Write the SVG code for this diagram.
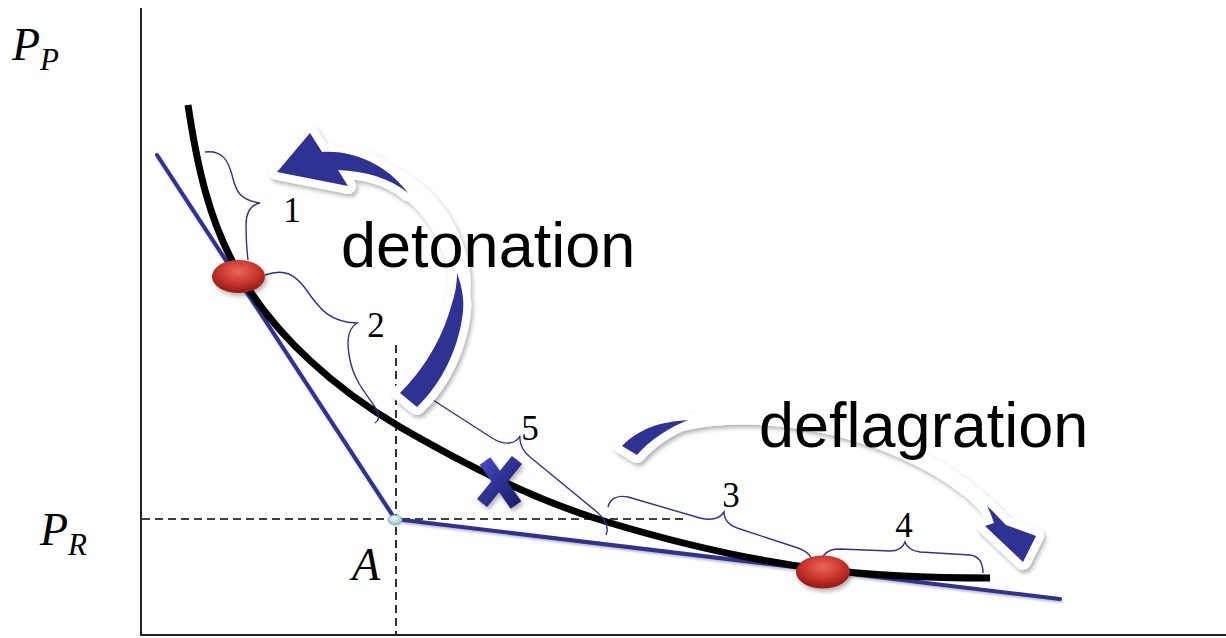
<svg xmlns="http://www.w3.org/2000/svg" width="1226" height="638" viewBox="0 0 1226 638">
<defs>
<filter id="sh" x="-30%" y="-30%" width="160%" height="160%"><feDropShadow dx="2" dy="3" stdDeviation="2" flood-color="#000" flood-opacity="0.3"/></filter>
<filter id="shl" x="-5%" y="-20%" width="110%" height="140%"><feDropShadow dx="1" dy="2" stdDeviation="1.2" flood-color="#000" flood-opacity="0.25"/></filter>
<radialGradient id="red" cx="50%" cy="35%" r="60%"><stop offset="0" stop-color="#e8685a"/><stop offset="0.55" stop-color="#cc3a30"/><stop offset="1" stop-color="#9c1c16"/></radialGradient>
<radialGradient id="cyan" cx="45%" cy="35%" r="65%"><stop offset="0" stop-color="#f4ffff"/><stop offset="1" stop-color="#8bbcc4"/></radialGradient>
<linearGradient id="xg" x1="0" y1="0" x2="1" y2="1"><stop offset="0" stop-color="#4545c0"/><stop offset="0.5" stop-color="#2e3192"/><stop offset="1" stop-color="#1e1f70"/></linearGradient>
<style>
.ax{stroke:#222;stroke-width:2;fill:none}
.dash{stroke:#000;stroke-width:1.6;stroke-dasharray:8 5;fill:none}
.tan{stroke:#2e3192;stroke-width:4;fill:none;stroke-linecap:round}
.br{stroke:#2e3192;stroke-width:1.4;fill:none}
.num{font-family:"Liberation Serif",serif;font-size:35px;fill:#000}
.var{font-family:"Liberation Serif",serif;font-style:italic;fill:#000}
.big{font-family:"Liberation Sans",Arial,sans-serif;font-size:63px;fill:#000}
.band{fill:none;stroke:#fff}
.arr{fill:#2e3192;stroke:#fff;stroke-width:16;stroke-linejoin:round;paint-order:stroke}
</style>
</defs>
<rect width="1226" height="638" fill="#fff"/>

<g id="axes">
<line class="ax" x1="141" y1="8" x2="141" y2="635"/>
<line class="ax" x1="140" y1="635" x2="1226" y2="635"/>
</g>

<g id="guides">
<line class="dash" x1="142" y1="519" x2="686" y2="519"/>
<line class="dash" x1="396" y1="345" x2="396" y2="634"/>
</g>

<g id="tangents" filter="url(#shl)">
<line class="tan" x1="157" y1="155" x2="395" y2="519"/>
<line class="tan" x1="395" y1="519" x2="1060" y2="599"/>
</g>

<g id="curve">
<path d="M188,105 C197,165 209,223 240,275 C277,338 337,390 400,427 C466,465 534,500 607,522 C677,543 748,560 820,569 C876,576 935,578 990,578" fill="none" stroke="#000" stroke-width="7"/>
</g>

<g id="braces">
<path class="br" d="M205,152 C222,150 228,160 232,175 C236,192 240,200 260,203 C250,205 246,212 246,225 C246,240 247,252 248,260"/>
<path class="br" d="M265,275 C285,268 295,275 305,288 C320,310 330,322 357,323 C346,330 347,345 350,360 C355,385 372,400 378,412 C380,418 378,421 375,423"/>
<path class="br" d="M433,400 L492,438 C505,446 516,444 520,436 C519,446 524,452 530,457 L597,512 C606,520 609,528 606,535"/>
<path class="br" d="M608,507 C610,498 618,495 628,497 L700,518 C712,521 720,518 724,512 C724,520 730,526 740,529 L798,548 C806,551 810,555 811,558"/>
<path class="br" d="M823,556 C828,550 833,549 840,549 L890,551 C898,551 903,548 905,542 C907,548 912,551 920,552 L970,555 C978,556 983,562 983,573"/>
</g>

<g id="points">
<ellipse cx="238.5" cy="276.5" rx="26.5" ry="16.5" fill="url(#red)" filter="url(#sh)"/>
<ellipse cx="823" cy="572" rx="27" ry="16.5" fill="url(#red)" filter="url(#sh)"/>
<ellipse cx="395" cy="520" rx="7" ry="5" fill="url(#cyan)" stroke="#7aa8b0" stroke-width="0.8"/>
</g>

<g id="cross" filter="url(#sh)">
<line x1="485" y1="461" x2="516" y2="505" stroke="url(#xg)" stroke-width="13"/>
<line x1="517" y1="460" x2="482" y2="503" stroke="url(#xg)" stroke-width="13"/>
</g>

<g id="detonation-arrow" filter="url(#sh)">
<path class="band" stroke-width="22" d="M408,400 C445,365 470,300 455,255 C440,205 400,170 345,163"/>
<path class="arr" d="M400,393 C415,378 438,350 450,310 C455,295 457,285 457,273 C463,290 464,300 463,312 C459,347 443,382 417,407 Z"/>
<path class="arr" d="M277,172 L310,133 L322,152 C350,150 385,162 408,193 C390,178 365,171 338,170 L348,186 Z"/>
</g>

<g id="deflagration-arrow" filter="url(#sh)">
<path class="band" stroke-width="15" d="M630,450 C660,420 720,412 790,420 C870,430 950,465 992,512"/>
<path class="arr" stroke-width="14" d="M622,446 C640,428 660,422 688,420 C668,428 650,440 637,455 Z"/>
<path class="arr" stroke-width="18" d="M987,506 C995,513 1000,519 1006,525 L1036,536 L1023,562 L985,526 L994,523 C992,517 990,512 987,506 Z"/>
</g>

<g id="labels">
<text class="var" x="12" y="60" font-size="46">P<tspan font-size="31" dy="10">P</tspan></text>
<text class="var" x="40" y="545" font-size="46">P<tspan font-size="31" dy="10">R</tspan></text>
<text class="var" x="352" y="580" font-size="46">A</text>
<text class="num" x="292" y="222" text-anchor="middle">1</text>
<text class="num" x="376" y="337" text-anchor="middle">2</text>
<text class="num" x="731" y="507" text-anchor="middle">3</text>
<text class="num" x="904" y="537" text-anchor="middle">4</text>
<text class="num" x="530" y="440" text-anchor="middle">5</text>
<text class="big" x="341" y="267">detonation</text>
<text class="big" x="759" y="447">deflagration</text>
</g>
</svg>
